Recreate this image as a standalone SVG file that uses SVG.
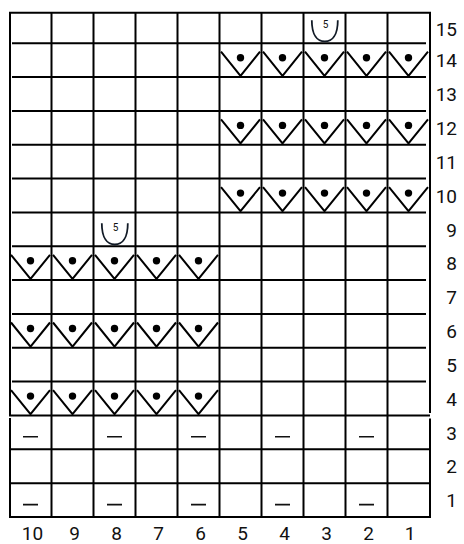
<svg xmlns="http://www.w3.org/2000/svg" width="464" height="544" viewBox="0 0 464 544">
<style>
.g{stroke:#000;stroke-width:2;fill:none}
.sym{stroke:#000;stroke-width:2;fill:none;stroke-linejoin:miter}
.u{stroke:#111a26;stroke-width:1.8;fill:none}
.d{stroke:#111;stroke-width:1.6}
.lbl{font-family:Roboto,"Liberation Sans",sans-serif;font-size:19px;fill:#111}
.n5{font-family:Roboto,"Liberation Sans",sans-serif;font-size:10px;fill:#111;text-anchor:middle}
</style>
<defs>
<g id="vdot">
<path class="sym" d="M1.5,8.5 L21,32.6 L40.5,8.5"/>
<circle cx="21" cy="14.5" r="3.7" fill="#000"/>
</g>
<path id="ucup" class="u" d="M8.3,-23 C8.3,-8 14,-1.8 21.3,-1.8 C28.6,-1.8 34.3,-8 34.3,-23"/>
</defs>
<rect width="464" height="544" fill="#fff"/>
<g id="grid">
<path class="g" d="M10,415.5 V12.7 H430 V413"/>
<line class="g" x1="9" y1="415.5" x2="430" y2="415.5"/>
<path class="g" d="M12,43.2H426M12,77.1H426M12,110.9H426M12,144.8H426M12,178.6H426M12,212.4H426M12,246.3H426M12,280.1H426M12,314H426M12,347.8H426M12,381.6H426"/>
<path class="g" d="M10,418 V517 H430 V418.5"/>
<path class="g" d="M10,449.3H430M10,483.2H430"/>
<path class="g" d="M51.5,12.7V517M93.5,12.7V517M135.5,12.7V517M177.5,12.7V517M219.5,12.7V517M261.5,12.7V517M303.5,12.7V517M345.5,12.7V517M387.5,12.7V517"/>
</g>
<g id="vdots-left">
<use href="#vdot" x="9.5" y="381.6"/><use href="#vdot" x="51.5" y="381.6"/><use href="#vdot" x="93.5" y="381.6"/><use href="#vdot" x="135.5" y="381.6"/><use href="#vdot" x="177.5" y="381.6"/>
<use href="#vdot" x="9.5" y="314"/><use href="#vdot" x="51.5" y="314"/><use href="#vdot" x="93.5" y="314"/><use href="#vdot" x="135.5" y="314"/><use href="#vdot" x="177.5" y="314"/>
<use href="#vdot" x="9.5" y="246.3"/><use href="#vdot" x="51.5" y="246.3"/><use href="#vdot" x="93.5" y="246.3"/><use href="#vdot" x="135.5" y="246.3"/><use href="#vdot" x="177.5" y="246.3"/>
</g>
<g id="vdots-right">
<use href="#vdot" x="219.5" y="178.6"/><use href="#vdot" x="261.5" y="178.6"/><use href="#vdot" x="303.5" y="178.6"/><use href="#vdot" x="345.5" y="178.6"/><use href="#vdot" x="387.5" y="178.6"/>
<use href="#vdot" x="219.5" y="110.9"/><use href="#vdot" x="261.5" y="110.9"/><use href="#vdot" x="303.5" y="110.9"/><use href="#vdot" x="345.5" y="110.9"/><use href="#vdot" x="387.5" y="110.9"/>
<use href="#vdot" x="219.5" y="43.2"/><use href="#vdot" x="261.5" y="43.2"/><use href="#vdot" x="303.5" y="43.2"/><use href="#vdot" x="345.5" y="43.2"/><use href="#vdot" x="387.5" y="43.2"/>
</g>
<g id="cup-r15">
<use href="#ucup" x="303.5" y="43.2"/>
<text class="n5" x="325.5" y="27.5">5</text>
</g>
<g id="cup-r9">
<use href="#ucup" x="93.5" y="246.3"/>
<text class="n5" x="115.5" y="230.5">5</text>
</g>
<g id="dashes">
<path class="d" d="M23,436.8H38M107,436.8H122M191,436.8H206M275,436.8H290M359,436.8H374M23,504.6H38M107,504.6H122M191,504.6H206M275,504.6H290M359,504.6H374"/>
</g>
<g id="row-labels" class="lbl" text-anchor="end">
<text x="457" y="35.5">15</text>
<text x="457" y="67.3">14</text>
<text x="457" y="101.1">13</text>
<text x="457" y="135">12</text>
<text x="457" y="168.8">11</text>
<text x="457" y="202.6">10</text>
<text x="457" y="236.5">9</text>
<text x="457" y="270.3">8</text>
<text x="457" y="304.1">7</text>
<text x="457" y="338">6</text>
<text x="457" y="371.8">5</text>
<text x="457" y="406">4</text>
<text x="457" y="439.6">3</text>
<text x="457" y="473.4">2</text>
<text x="457" y="507.2">1</text>
</g>
<g id="col-labels" class="lbl" text-anchor="middle">
<text x="32.5" y="540">10</text>
<text x="74.5" y="540">9</text>
<text x="116.5" y="540">8</text>
<text x="158.5" y="540">7</text>
<text x="200.5" y="540">6</text>
<text x="242.5" y="540">5</text>
<text x="284.5" y="540">4</text>
<text x="326.5" y="540">3</text>
<text x="368.5" y="540">2</text>
<text x="410" y="540">1</text>
</g>
</svg>
